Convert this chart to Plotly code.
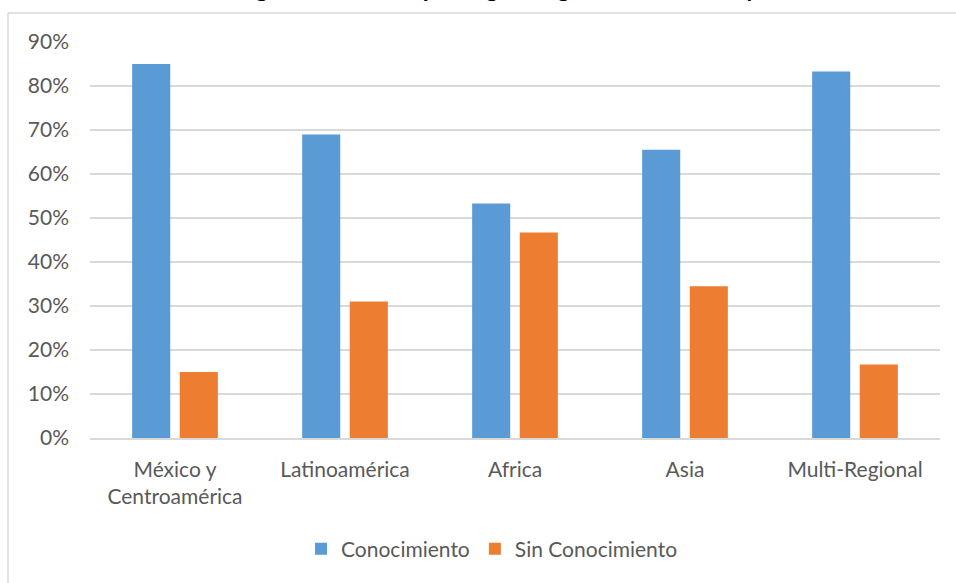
import plotly.graph_objects as go

categories = ["México y<br>Centroamérica", "Latinoamérica", "Africa", "Asia", "Multi-Regional"]
conocimiento = [0.85, 0.69, 0.533, 0.655, 0.833]
sin_conocimiento = [0.15, 0.31, 0.467, 0.345, 0.167]
y_ticks = [0, 0.1, 0.2, 0.3, 0.4, 0.5, 0.6, 0.7, 0.8, 0.9]
title_text = "Estrategia de atención por región o género del titular y edad"

FONT = "Lato"
TXT = "#595959"
GRID = "#D9D9D9"

fig = go.Figure()
fig.add_trace(go.Bar(x=categories, y=conocimiento, name="Conocimiento",
                     marker=dict(color="#5B9BD5", line=dict(width=0))))
fig.add_trace(go.Bar(x=categories, y=sin_conocimiento, name="Sin Conocimiento",
                     marker=dict(color="#ED7D31", line=dict(width=0))))

W, H = 956, 583
L, R, T, B = 90, 16, 42, 145
pw, ph = W - L - R, H - T - B

def px(x):
    return (x - L) / pw

def py(y):
    return (H - B - y) / ph

fig.update_layout(
    width=W, height=H,
    margin=dict(l=L, r=R, t=T, b=B, pad=0),
    paper_bgcolor="white", plot_bgcolor="white",
    barmode="group", bargap=0.44, bargroupgap=0.2,
    font=dict(family=FONT, size=21, color=TXT),
    showlegend=True,
    legend=dict(orientation="h", x=px(492), xanchor="center", y=py(549), yanchor="middle",
                font=dict(family=FONT, size=21, color=TXT), itemsizing="constant",
                traceorder="normal"),
    xaxis=dict(showgrid=False, showline=True, linecolor=GRID, linewidth=1.5,
               ticks="", tickfont=dict(family=FONT, size=21, color=TXT),
               ticklabelstandoff=12, fixedrange=True),
    yaxis=dict(range=[0, 0.9], tickvals=y_ticks, tickformat=".0%",
               showgrid=True, gridcolor=GRID, gridwidth=1.5, zeroline=False,
               showline=False, ticks="", tickfont=dict(family=FONT, size=21, color=TXT),
               ticklabelstandoff=20, fixedrange=True),
    shapes=[
        dict(type="line", xref="paper", yref="paper", x0=px(8), x1=px(8), y0=py(13), y1=py(600),
             line=dict(color=GRID, width=1.5)),
        dict(type="line", xref="paper", yref="paper", x0=px(8), x1=px(970), y0=py(13), y1=py(13),
             line=dict(color=GRID, width=1.5)),
    ],
    annotations=[
        dict(text="<b>" + title_text + "</b>", xref="paper", yref="paper",
             x=px(497), y=py(4), xanchor="center", yanchor="bottom", showarrow=False,
             font=dict(family=FONT, size=24, color="#000000")),
    ],
)

fig.write_html("out.html", post_script="document.body.style.margin='0';",
               config={"displayModeBar": False})
